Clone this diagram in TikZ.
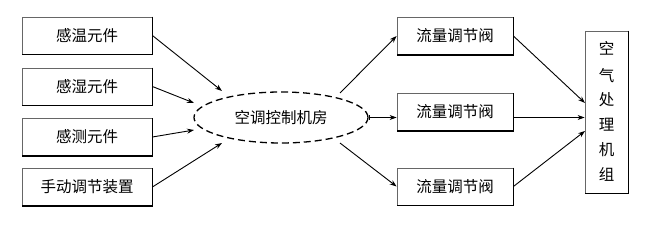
\documentclass[tikz,border=0pt]{standalone}
\usepackage{fontspec}
\newfontfamily\cjk{Noto Sans CJK SC}
\usetikzlibrary{arrows.meta,shapes.geometric}
\begin{document}
\begin{tikzpicture}[x=1pt,y=-1pt,
  every node/.style={font=\cjk\fontsize{15.5}{17}\selectfont},
  boxa/.style={draw=gray!80!black,line width=0.8pt,minimum width=130pt,minimum height=37pt,inner sep=0pt},
  boxb/.style={draw=gray!80!black,line width=0.8pt,minimum width=116pt,minimum height=37pt,inner sep=0pt},
  arr/.style={-{Stealth[length=7pt,width=5pt]},line width=0.9pt},
  shadowline/.style={line width=1.6pt,black}]
\useasboundingbox (0,0) rectangle (672,232);
\fill[white] (0,0) rectangle (672,232);
% left boxes
\node[boxa] (a1) at (87,35.5) {感温元件};
\node[boxa] (a2) at (87,86.5) {感湿元件};
\node[boxa] (a3) at (87,137) {感测元件};
\node[boxa] (a4) at (87,187) {手动调节装置};
\foreach \n in {a1,a2,a3,a4}{
  \draw[shadowline] (\n.north east) -- (\n.south east) -- (\n.south west);
}
% ellipse
\node[ellipse,draw,dashed,dash pattern=on 7pt off 4pt,line width=1.3pt,minimum width=174pt,minimum height=51pt,inner sep=0pt] (e) at (281,117.5) {空调控制机房};
% right boxes
\node[boxb] (b1) at (455,36) {流量调节阀};
\node[boxb] (b2) at (455,112) {流量调节阀};
\node[boxb] (b3) at (455,186.5) {流量调节阀};
\foreach \n in {b1,b2,b3}{
  \draw[shadowline] (\n.north east) -- (\n.south east) -- (\n.south west);
}
% tall box
\node[draw=gray!80!black,line width=0.8pt,minimum width=43pt,minimum height=162pt,inner sep=0pt] (t) at (606.5,112) {};
\draw[shadowline] (t.north east) -- (t.south east) -- (t.south west);
\node (t1) at (606.5,48) {空};
\node (t2) at (606.5,76) {气};
\node (t3) at (606.5,100) {处};
\node (t4) at (606.5,125) {理};
\node (t5) at (606.5,150) {机};
\node (t6) at (606.5,174) {组};
% coordinates on ellipse
\coordinate (e1) at (222,91);
\coordinate (e2) at (194,103);
\coordinate (e3) at (194,130);
\coordinate (e4) at (222,143);
\coordinate (eo1) at (340,93);
\coordinate (eo3) at (340,143);
% arrows in
\draw[arr] (a1.east) -- (e1);
\draw[arr] (a2.east) -- (e2);
\draw[arr] (a3.east) -- (e3);
\draw[arr] (a4.east) -- (e4);
% arrows out
\draw[arr] (eo1) -- (b1.west);
\draw[arr,{Bar[width=5pt]}-{Stealth[length=7pt,width=5pt]}] (e.east) -- (e.east -| b2.west);
\draw[arr] (eo3) -- (b3.west);
% to tall box
\coordinate (t_in1) at (585,103);
\coordinate (t_in3) at (585,131);
\draw[arr] (b1.east) -- (t_in1);
\draw[arr] (b2.east |- e.east) -- (t.west |- e.east);
\draw[arr] (b3.east) -- (t_in3);
\end{tikzpicture}
\end{document}
